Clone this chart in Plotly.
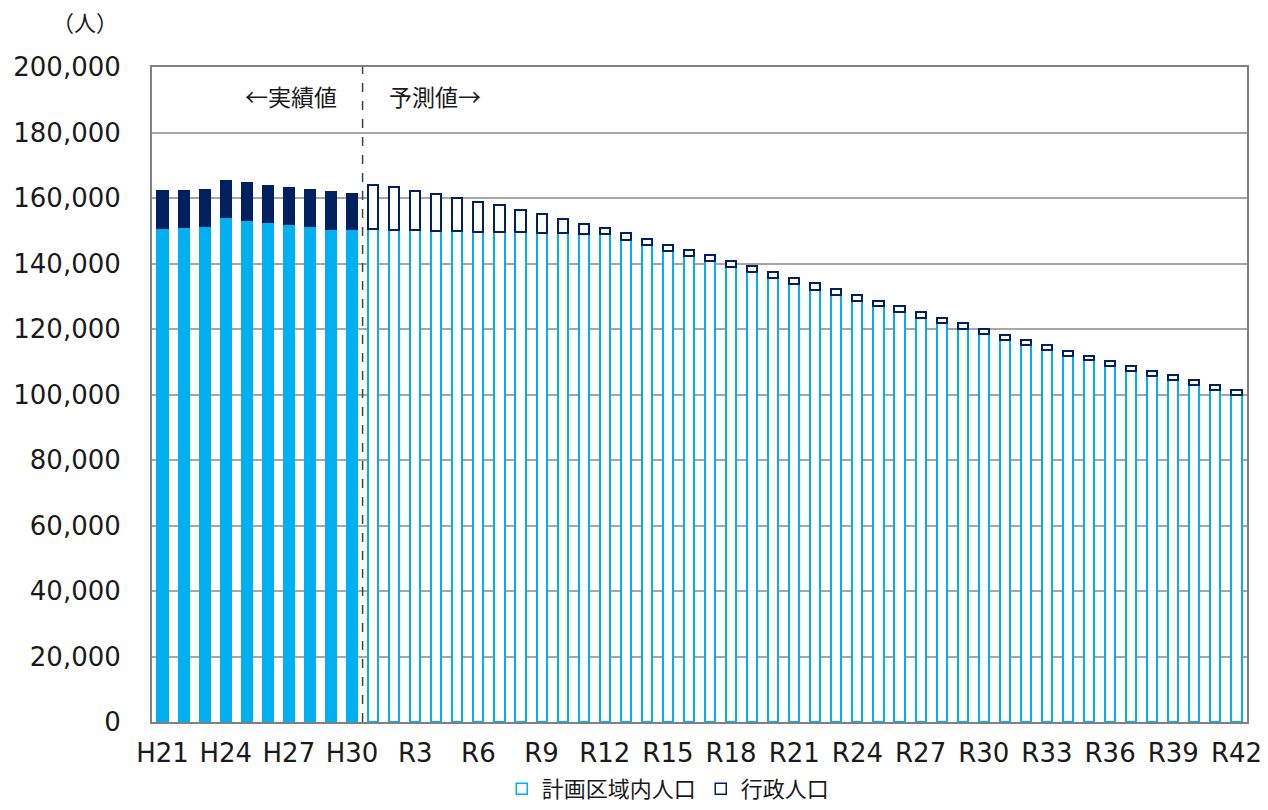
import plotly.graph_objects as go

# Fiscal years: actual (H21-H30) and forecast (R1-R42)
years = [f"H{n}" for n in range(21, 31)] + [f"R{n}" for n in range(1, 43)]
n_actual = 10

# Administrative population (total, persons)
admin_pop = [
    162100, 162200, 162400, 165300, 164500, 163800, 163000, 162400, 161800, 161300,
    164100, 163500, 162200, 161100, 160100, 158800, 157800, 156400, 155100, 153600,
    152200, 150800, 149200, 147500, 145800, 144200, 142600, 140900, 139100, 137300,
    135700, 133900, 132100, 130400, 128600, 126900, 125100, 123400, 121700, 120000,
    118300, 116500, 115000, 113400, 111900, 110300, 108800, 107300, 105900, 104400,
    102800, 101400,
]

# Population inside the planning area (persons)
plan_pop = [
    150900, 151100, 151300, 154100, 153400, 152600, 152000, 151300, 150500, 150500,
    150400, 150300, 150200, 150000, 149900, 149700, 149600, 149500, 149400, 149200,
    149100, 148900, 147300, 145600, 143900, 142400, 140700, 139000, 137300, 135500,
    133700, 132000, 130300, 128600, 126900, 125200, 123400, 121700, 120000, 118400,
    116700, 115000, 113500, 111900, 110400, 108800, 107300, 105800, 104300, 102800,
    101400, 100000,
]

tick_labels = ["H21", "H24", "H27", "H30", "R3", "R6", "R9", "R12", "R15", "R18",
               "R21", "R24", "R27", "R30", "R33", "R36", "R39", "R42"]

LIGHT = "#00B0F0"
NAVY = "#002060"

# The upper segment stacks the part of the administrative population outside the plan area
outside_pop = [a - p for a, p in zip(admin_pop, plan_pop)]
n = len(years)

def fills(color):
    return [color if i < n_actual else "white" for i in range(n)]

fig = go.Figure()

fig.add_trace(go.Bar(
    x=years, y=plan_pop, name="計画区域内人口", showlegend=False,
    marker=dict(color=fills(LIGHT), line=dict(color=LIGHT, width=2)),
))
fig.add_trace(go.Bar(
    x=years, y=outside_pop, name="行政人口", showlegend=False,
    marker=dict(color=fills(NAVY), line=dict(color=NAVY, width=2)),
))

# Legend entries shown as open squares
for name, color in [("計画区域内人口", LIGHT), ("行政人口", NAVY)]:
    fig.add_trace(go.Scatter(
        x=[None], y=[None], mode="markers", name=name,
        marker=dict(symbol="square-open", size=11, color=color, line=dict(width=1.5)),
    ))

# Divider between actual and forecast values
fig.add_shape(type="line", xref="x", yref="paper", x0=n_actual - 0.5, x1=n_actual - 0.5,
              y0=0, y1=1, line=dict(color="#404040", width=1.5, dash="dash"))

jp = "Noto Sans CJK JP"
txt = "#1a1a1a"
fig.add_annotation(x=n_actual - 0.5, xref="x", y=0.955, yref="paper", text="←実績値",
                   showarrow=False, xanchor="right", xshift=-24, yanchor="middle",
                   font=dict(family=jp, size=23, color=txt))
fig.add_annotation(x=n_actual - 0.5, xref="x", y=0.955, yref="paper", text="予測値→",
                   showarrow=False, xanchor="left", xshift=24, yanchor="middle",
                   font=dict(family=jp, size=23, color=txt))
fig.add_annotation(x=-0.0612, xref="paper", y=1.07, yref="paper", text="（人）",
                   showarrow=False, xanchor="center", yanchor="middle",
                   font=dict(family=jp, size=22, color=txt))

fig.update_layout(
    width=1268, height=810,
    margin=dict(l=152, r=21, t=67, b=88, autoexpand=False),
    barmode="stack", bargap=0.52,
    plot_bgcolor="white", paper_bgcolor="white",
    font=dict(family="DejaVu Sans, Noto Sans CJK JP", size=26, color=txt),
    legend=dict(orientation="h", x=0.527, xanchor="center", xref="container",
                y=0.026, yanchor="middle", yref="container",
                font=dict(family=jp, size=22), itemwidth=30, traceorder="normal"),
    xaxis=dict(
        type="category", tickmode="array", tickvals=tick_labels, ticktext=tick_labels,
        showline=True, linecolor="#808080", linewidth=2, mirror=True, automargin=False,
        ticks="", ticklabelstandoff=7, range=[-0.5, n - 0.5],
    ),
    yaxis=dict(
        range=[0, 200000], dtick=20000, tickformat=",d", automargin=False,
        showgrid=True, gridcolor="#A6A6A6", gridwidth=1.5,
        showline=True, linecolor="#808080", linewidth=2, mirror=True,
        ticks="", ticklabelstandoff=24, zeroline=False,
    ),
)

fig.write_html("out.html")
